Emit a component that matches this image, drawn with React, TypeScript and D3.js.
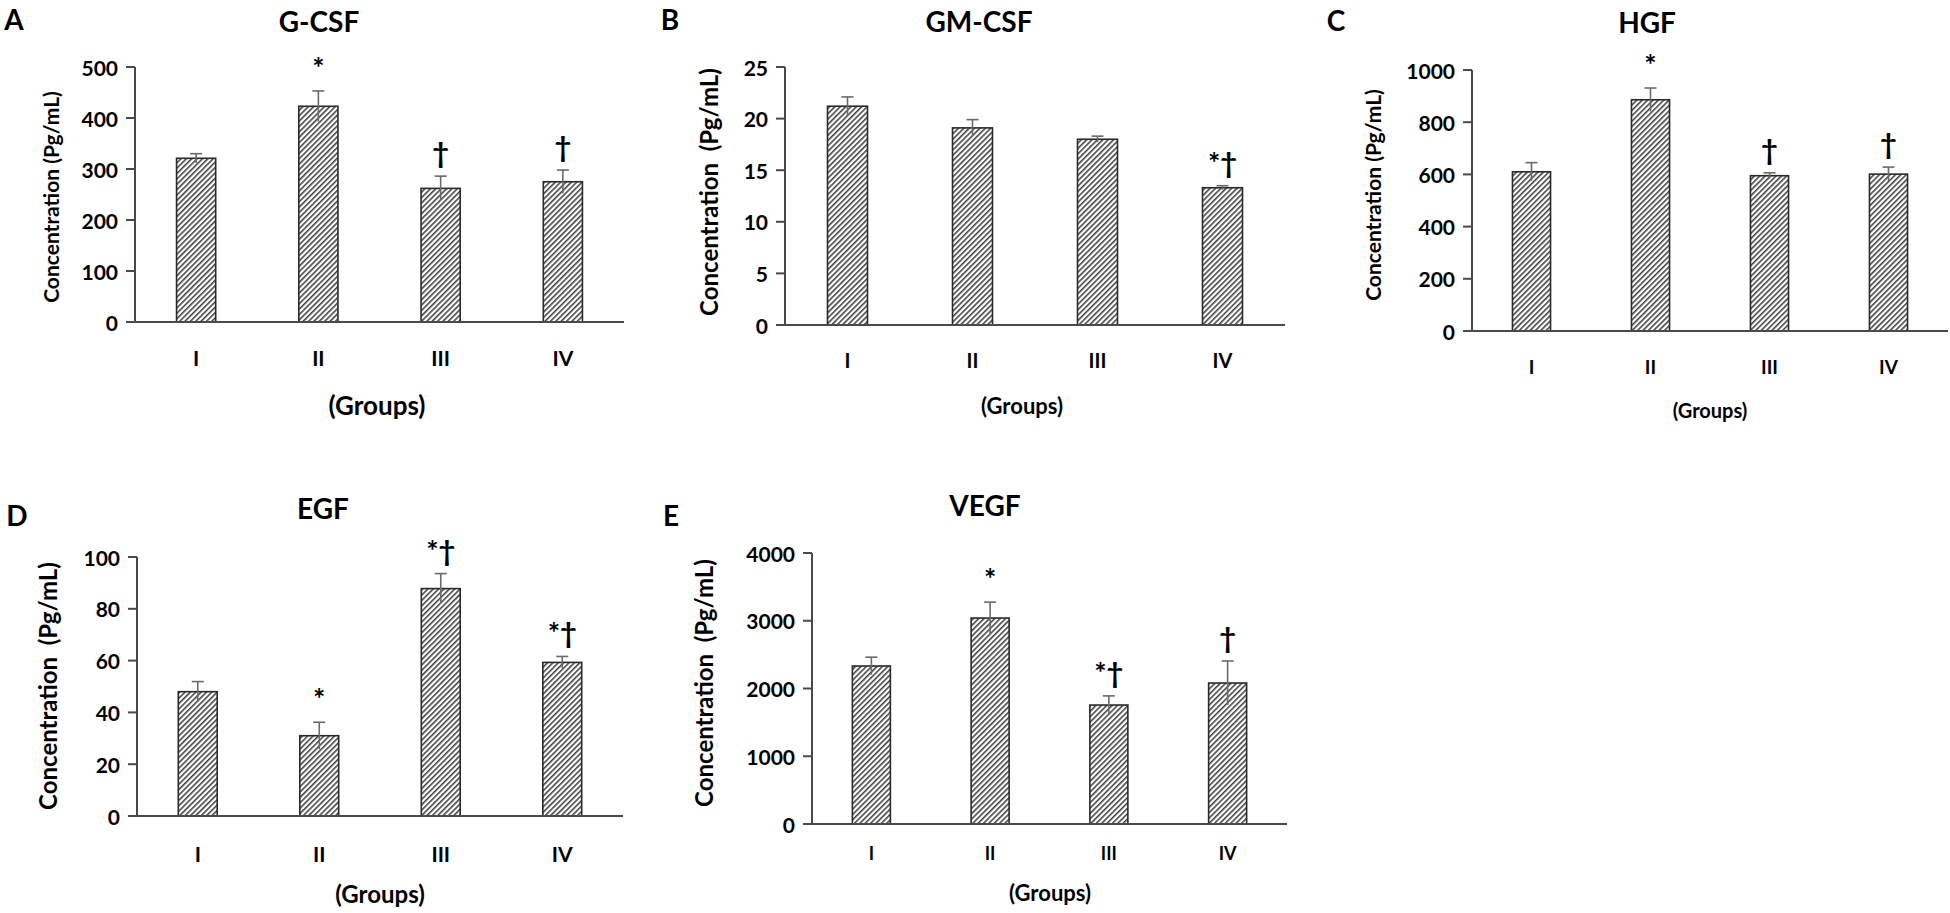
import * as d3 from 'd3'

// groups on the x axis
const groups = ['I', 'II', 'III', 'IV']

// G-CSF
const gcsfMean = [321, 423, 262, 275]
const gcsfErr = [9, 30, 24, 23]
const gcsfMarks = ['', '*', '†', '†']
const gcsfTicks = [0, 100, 200, 300, 400, 500]

// GM-CSF
const gmcsfMean = [21.2, 19.1, 18.0, 13.3]
const gmcsfErr = [0.9, 0.8, 0.3, 0.2]
const gmcsfMarks = ['', '', '', '*†']
const gmcsfTicks = [0, 5, 10, 15, 20, 25]

// HGF
const hgfMean = [610, 886, 595, 601]
const hgfErr = [35, 45, 11, 27]
const hgfMarks = ['', '*', '†', '†']
const hgfTicks = [0, 200, 400, 600, 800, 1000]

// EGF
const egfMean = [48, 31, 87.8, 59.3]
const egfErr = [3.9, 5.2, 5.8, 2.3]
const egfMarks = ['', '*', '*†', '*†']
const egfTicks = [0, 20, 40, 60, 80, 100]

// VEGF
const vegfMean = [2332, 3040, 1756, 2081]
const vegfErr = [130, 235, 135, 325]
const vegfMarks = ['', '*', '*†', '†']
const vegfTicks = [0, 1000, 2000, 3000, 4000]

interface PanelDef {
  letter: string
  title: string
  mean: number[]
  err: number[]
  marks: string[]
  ticks: number[]
  lx: number
  ly: number
  tx: number
  ty: number
  x0: number
  x1: number
  yTop: number
  yBot: number
  labelY: number
  labelSize: number
  groupsX: number
  groupsY: number
  groupsSize: number
  yTitle: string
  yTitleX: number
  yTitleY: number
  yTitleSize: number
}

const panels: PanelDef[] = [
  {
    letter: 'A', title: 'G-CSF', mean: gcsfMean, err: gcsfErr, marks: gcsfMarks, ticks: gcsfTicks,
    lx: 14, ly: 19, tx: 319, ty: 21, x0: 135, x1: 624, yTop: 67, yBot: 322,
    labelY: 357, labelSize: 21, groupsX: 377, groupsY: 405, groupsSize: 26,
    yTitle: 'Concentration (Pg/mL)', yTitleX: 50, yTitleY: 197, yTitleSize: 21,
  },
  {
    letter: 'B', title: 'GM-CSF', mean: gmcsfMean, err: gmcsfErr, marks: gmcsfMarks, ticks: gmcsfTicks,
    lx: 670, ly: 19, tx: 979, ty: 21, x0: 785, x1: 1285, yTop: 67, yBot: 325,
    labelY: 360, labelSize: 20, groupsX: 1022, groupsY: 405, groupsSize: 22,
    yTitle: 'Concentration  (Pg/mL)', yTitleX: 708, yTitleY: 192, yTitleSize: 24,
  },
  {
    letter: 'C', title: 'HGF', mean: hgfMean, err: hgfErr, marks: hgfMarks, ticks: hgfTicks,
    lx: 1336, ly: 20, tx: 1647, ty: 22, x0: 1472, x1: 1948, yTop: 70, yBot: 331,
    labelY: 366, labelSize: 19, groupsX: 1710, groupsY: 410, groupsSize: 20,
    yTitle: 'Concentration (Pg/mL)', yTitleX: 1372, yTitleY: 195, yTitleSize: 21,
  },
  {
    letter: 'D', title: 'EGF', mean: egfMean, err: egfErr, marks: egfMarks, ticks: egfTicks,
    lx: 17, ly: 515, tx: 323, ty: 508, x0: 137, x1: 623, yTop: 557, yBot: 816,
    labelY: 853, labelSize: 21, groupsX: 380, groupsY: 893, groupsSize: 24,
    yTitle: 'Concentration  (Pg/mL)', yTitleX: 47, yTitleY: 686, yTitleSize: 24,
  },
  {
    letter: 'E', title: 'VEGF', mean: vegfMean, err: vegfErr, marks: vegfMarks, ticks: vegfTicks,
    lx: 671, ly: 515, tx: 985, ty: 505, x0: 812, x1: 1287, yTop: 553, yBot: 824,
    labelY: 853, labelSize: 18, groupsX: 1050, groupsY: 892, groupsSize: 22,
    yTitle: 'Concentration  (Pg/mL)', yTitleX: 703, yTitleY: 683, yTitleSize: 24,
  },
]

const FONT = "Lato, 'Open Sans', 'DejaVu Sans', sans-serif"
const AXIS = '#4a4a4a'

const Panel: React.FC<{ p: PanelDef }> = ({ p }) => {
  const x = d3
    .scaleBand<string>()
    .domain(groups)
    .range([p.x0, p.x1])
    .paddingInner(0.68)
    .paddingOuter(0.34)
  const y = d3
    .scaleLinear()
    .domain([0, p.ticks[p.ticks.length - 1]])
    .range([p.yBot, p.yTop])
  const bw = x.bandwidth()
  return (
    <g fontFamily={FONT} fontWeight="bold" fill="#000">
      <text x={p.lx} y={p.ly} fontSize={28} textAnchor="middle" dominantBaseline="central">
        {p.letter}
      </text>
      <text x={p.tx} y={p.ty} fontSize={28} textAnchor="middle" dominantBaseline="central">
        {p.title}
      </text>
      <text
        transform={`translate(${p.yTitleX},${p.yTitleY}) rotate(-90)`}
        fontSize={p.yTitleSize}
        textAnchor="middle"
        dominantBaseline="central"
        style={{ whiteSpace: 'pre' }}
      >
        {p.yTitle}
      </text>
      {/* y axis */}
      <line x1={p.x0} x2={p.x0} y1={y(0)} y2={p.yTop} stroke={AXIS} strokeWidth={2} />
      {p.ticks.map((t) => (
        <g key={t}>
          <line x1={p.x0 - 9} x2={p.x0} y1={y(t)} y2={y(t)} stroke={AXIS} strokeWidth={2} />
          <text x={p.x0 - 17} y={y(t)} fontSize={21} textAnchor="end" dominantBaseline="central">
            {t}
          </text>
        </g>
      ))}
      {/* bars */}
      {groups.map((g, i) => (
        <rect
          key={g}
          x={x(g)}
          y={y(p.mean[i])}
          width={bw}
          height={y(0) - y(p.mean[i])}
          fill="url(#hatch)"
          stroke="#2a2a2a"
          strokeWidth={1.6}
        />
      ))}
      {/* error bars */}
      {groups.map((g, i) => {
        const cx = (x(g) as number) + bw / 2
        const top = y(p.mean[i] + p.err[i])
        return (
          <g key={g} stroke="#6a6a6a" strokeWidth={1.6}>
            <line x1={cx} x2={cx} y1={y(p.mean[i] - p.err[i])} y2={top} />
            <line x1={cx - 6} x2={cx + 6} y1={top} y2={top} />
          </g>
        )
      })}
      {/* significance marks */}
      {groups.map((g, i) =>
        p.marks[i] ? (
          <text
            key={g}
            x={(x(g) as number) + bw / 2}
            y={y(p.mean[i] + p.err[i]) - 13}
            fontSize={29}
            textAnchor="middle"
          >
            {p.marks[i]}
          </text>
        ) : null
      )}
      {/* x axis */}
      <line x1={p.x0 - 9} x2={p.x1} y1={y(0)} y2={y(0)} stroke={AXIS} strokeWidth={2} />
      {groups.map((g) => (
        <text
          key={g}
          x={(x(g) as number) + bw / 2}
          y={p.labelY}
          fontSize={p.labelSize}
          textAnchor="middle"
          dominantBaseline="central"
        >
          {g}
        </text>
      ))}
      <text x={p.groupsX} y={p.groupsY} fontSize={p.groupsSize} textAnchor="middle" dominantBaseline="central">
        (Groups)
      </text>
    </g>
  )
}

const App = () => {
  return (
    <svg
      width={1950}
      height={913}
      viewBox="0 0 1950 913"
      style={{ position: 'absolute', left: 0, top: 0, background: '#fff' }}
    >
      <defs>
        <pattern id="hatch" patternUnits="userSpaceOnUse" width={3.8} height={3.8} patternTransform="rotate(45)">
          <rect width={3.8} height={3.8} fill="#fff" />
          <line x1={0.8} y1={0} x2={0.8} y2={3.8} stroke="#1a1a1a" strokeWidth={1.3} />
        </pattern>
      </defs>
      <rect width={1950} height={913} fill="#fff" />
      {panels.map((p) => (
        <Panel key={p.letter} p={p} />
      ))}
    </svg>
  )
}

export default App
